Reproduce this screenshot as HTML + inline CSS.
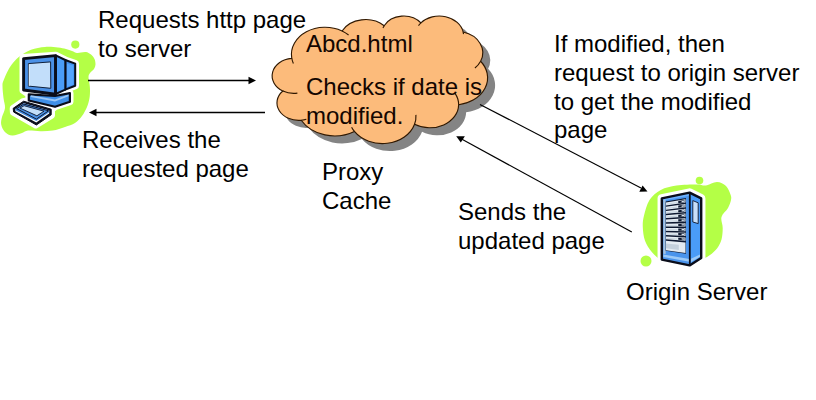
<!DOCTYPE html>
<html><head><meta charset="utf-8"><style>
html,body{margin:0;padding:0;background:#fff;}
body{width:816px;height:400px;position:relative;overflow:hidden;font-family:"Liberation Sans",sans-serif;}
svg{position:absolute;left:0;top:0;}
.t{position:absolute;font-size:24px;line-height:24px;white-space:nowrap;color:#000;}
</style></head><body>
<svg width="816" height="400" viewBox="0 0 816 400">

<g id="pc">
<path fill="#b4ff46" d="M45.00,47.00 C49.50,46.62 54.50,47.17 58.00,47.50 C61.50,47.83 63.67,48.42 66.00,49.00 C68.33,49.58 70.17,50.33 72.00,51.00 C73.83,51.67 75.50,52.75 77.00,53.00 C78.50,53.25 79.50,52.67 81.00,52.50 C82.50,52.33 84.33,51.67 86.00,52.00 C87.67,52.33 89.58,53.33 91.00,54.50 C92.42,55.67 93.75,57.33 94.50,59.00 C95.25,60.67 95.58,62.83 95.50,64.50 C95.42,66.17 94.92,67.58 94.00,69.00 C93.08,70.42 90.92,71.67 90.00,73.00 C89.08,74.33 88.58,75.17 88.50,77.00 C88.42,78.83 89.25,81.83 89.50,84.00 C89.75,86.17 90.00,87.67 90.00,90.00 C90.00,92.33 90.00,95.17 89.50,98.00 C89.00,100.83 88.25,104.00 87.00,107.00 C85.75,110.00 84.00,113.33 82.00,116.00 C80.00,118.67 77.83,121.17 75.00,123.00 C72.17,124.83 68.72,125.73 65.00,127.00 C61.28,128.27 56.80,129.89 52.70,130.60 C48.60,131.31 44.52,131.25 40.40,131.25 C36.28,131.25 31.07,130.31 28.00,130.60 C24.93,130.89 24.62,132.18 22.00,133.00 C19.38,133.82 15.10,135.68 12.25,135.50 C9.40,135.32 6.74,133.73 4.90,131.90 C3.06,130.07 1.68,126.98 1.20,124.50 C0.72,122.02 1.37,119.75 2.00,117.00 C2.63,114.25 4.75,111.17 5.00,108.00 C5.25,104.83 3.92,101.67 3.50,98.00 C3.08,94.33 2.46,89.00 2.50,86.00 C2.54,83.00 2.50,83.17 3.75,80.00 C5.00,76.83 7.50,70.83 10.00,67.00 C12.50,63.17 15.25,59.88 18.75,57.00 C22.25,54.12 26.62,51.42 31.00,49.75 C35.38,48.08 40.50,47.38 45.00,47.00Z"/>
<circle cx="75.3" cy="44.6" r="4.1" fill="#b4ff46"/>
<g stroke="#fff" stroke-width="7" stroke-linejoin="round" fill="#fff">
<polygon points="23,57.5 55.7,55.2 65.3,60 75.5,63.6 75.5,85.8 65.3,89.6 70,93 70,101.8 55,106.8 51.5,109.6 51.5,115.2 35.7,125 13.4,112.2 13.2,108.5 23,101.7 28.8,100.5 28.8,94.4 23,90.4"/>
</g>
<!-- monitor back box -->
<polygon points="65.3,60 75.2,63.6 75.2,85.8 65.3,89.6" fill="#3f8ff0" stroke="#0a0d1a" stroke-width="2" stroke-linejoin="round"/>
<polygon points="67,63.4 73.4,65.6 73.4,84.4 67,87" fill="#55a5ff"/>
<!-- monitor side -->
<polygon points="55.7,55.4 65.3,60 65.3,89.6 55.7,94" fill="#4a9cf8" stroke="#0a0d1a" stroke-width="2" stroke-linejoin="round"/>
<!-- base -->
<polygon points="28.8,94.4 28.8,100.5 55,106.8 69.9,101.8 69.9,93.1 55,96 " fill="#3f8fe8" stroke="#0a0d1a" stroke-width="2.2" stroke-linejoin="round"/>
<polygon points="30.8,95.3 55,99.4 68.5,94.6 68.5,96.3 55,101.4 30.8,97" fill="#9cc8f8"/>
<!-- monitor front -->
<polygon points="23.6,58.6 55.5,55.6 55.5,94.2 23.6,90" fill="#4a90e6" stroke="#0a0d1a" stroke-width="2.9" stroke-linejoin="round"/>
<polygon points="28.4,63.6 50.6,61.9 50.8,88.3 28.4,86.1" fill="#c2defa" stroke="#10203a" stroke-width="1"/>
<polyline points="29.2,86 29.2,64.3" fill="none" stroke="#e8f4ff" stroke-width="0.8"/>
<!-- keyboard -->
<polygon points="13.2,108.3 23.6,101.2 51.2,109.2 51.2,114.8 36.4,125 13.6,112" fill="#0a0d1a" stroke="#0a0d1a" stroke-width="1" stroke-linejoin="round"/>
<polygon points="15.4,108.9 23.7,103.3 49.2,110.6 49.2,113.4 36.3,122.4 15.4,111.3" fill="#ffffff"/>
<polygon points="15.4,108.9 23.7,103.3 49.2,110.6 49.2,112.3 36.3,121 15.4,110.3" fill="#3f88e0"/>
<polygon points="16.6,108.6 23.8,104.1 48.6,110.8 36.4,119.1" fill="#4a8ee0" stroke="#0d1830" stroke-width="1" stroke-linejoin="round"/>
<polygon points="20,108.1 24.1,105.7 44,111.2 36.9,115.8" fill="#c2defa" stroke="#0d1830" stroke-width="0.9" stroke-linejoin="round"/>
</g>


<g id="srv">
<path fill="#b4ff46" d="M660.80,190.00 C665.30,187.60 670.50,186.52 676.50,185.60 C682.50,184.68 691.92,184.52 696.80,184.50 C701.68,184.48 702.43,185.92 705.80,185.50 C709.17,185.08 713.63,181.92 717.00,182.00 C720.37,182.08 723.75,183.92 726.00,186.00 C728.25,188.08 729.67,192.17 730.50,194.50 C731.33,196.83 731.42,197.75 731.00,200.00 C730.58,202.25 729.58,205.17 728.00,208.00 C726.42,210.83 722.38,213.67 721.50,217.00 C720.62,220.33 722.70,224.25 722.70,228.00 C722.70,231.75 722.45,236.08 721.50,239.50 C720.55,242.92 718.92,245.92 717.00,248.50 C715.08,251.08 712.25,253.30 710.00,255.00 C707.75,256.70 706.50,257.20 703.50,258.70 C700.50,260.20 697.25,263.03 692.00,264.00 C686.75,264.97 677.20,265.17 672.00,264.50 C666.80,263.83 664.17,262.08 660.80,260.00 C657.43,257.92 654.43,255.20 651.80,252.00 C649.17,248.80 646.50,244.92 645.00,240.80 C643.50,236.68 642.98,231.43 642.80,227.30 C642.62,223.17 642.78,220.55 643.90,216.00 C645.02,211.45 646.68,204.33 649.50,200.00 C652.32,195.67 656.30,192.40 660.80,190.00Z"/>
<circle cx="699.5" cy="180.6" r="3.8" fill="#b4ff46"/>
<circle cx="646" cy="261" r="5.5" fill="#b4ff46"/>
<polygon points="661.8,198.4 689.6,192.6 701.2,198.4 701.2,258 689.6,265.4 661.8,259.6" fill="#fff" stroke="#fff" stroke-width="8.5" stroke-linejoin="round"/>
<polygon points="661.8,198.4 689.6,192.6 701.2,198.4 701.2,258 689.6,265.4 661.8,259.6" fill="#4a9cf8"/>
<polygon points="662.00,198.50 690.00,193.00 690.00,265.20 662.00,259.50" fill="#4a94ec"/>
<polygon points="662.84,198.33 689.16,193.17 689.16,195.68 662.84,200.48" fill="#6fb2ff"/>
<polygon points="663.40,200.07 665.64,199.66 665.64,254.00 663.40,253.63" fill="#a8c4e0"/>
<polygon points="665.64,201.53 685.94,198.03 685.94,253.65 665.64,250.75" fill="#0d1830"/>
<polygon points="665.92,202.49 685.52,199.23 685.52,202.49 665.92,205.38" fill="#e6edf4"/>
<polygon points="665.92,203.72 677.40,201.91 677.40,203.05 665.92,204.78" fill="#c8d4e0"/>
<polygon points="678.24,200.99 684.40,199.99 684.40,202.27 678.24,203.19" fill="#0d1830"/>
<polygon points="681.60,200.92 684.12,200.51 684.12,201.84 681.60,202.22" fill="#d8e4f0"/>
<polygon points="665.92,206.73 685.52,204.01 685.52,207.27 665.92,209.63" fill="#e6edf4"/>
<polygon points="665.92,207.97 677.40,206.47 677.40,207.61 665.92,209.03" fill="#c8d4e0"/>
<polygon points="678.24,205.58 684.40,204.74 684.40,207.02 678.24,207.78" fill="#0d1830"/>
<polygon points="681.60,205.59 684.12,205.25 684.12,206.58 681.60,206.90" fill="#d8e4f0"/>
<polygon points="665.92,210.98 685.52,208.79 685.52,212.05 665.92,213.87" fill="#e6edf4"/>
<polygon points="665.92,212.22 677.40,211.03 677.40,212.17 665.92,213.28" fill="#c8d4e0"/>
<polygon points="678.24,210.16 684.40,209.49 684.40,211.77 678.24,212.36" fill="#0d1830"/>
<polygon points="681.60,210.26 684.12,210.00 684.12,211.32 681.60,211.57" fill="#d8e4f0"/>
<polygon points="665.92,215.23 685.52,213.57 685.52,216.83 665.92,218.12" fill="#e6edf4"/>
<polygon points="665.92,216.46 677.40,215.58 677.40,216.72 665.92,217.53" fill="#c8d4e0"/>
<polygon points="678.24,214.74 684.40,214.24 684.40,216.52 678.24,216.94" fill="#0d1830"/>
<polygon points="681.60,214.94 684.12,214.74 684.12,216.07 681.60,216.24" fill="#d8e4f0"/>
<polygon points="665.92,219.48 685.52,218.35 685.52,221.61 665.92,222.37" fill="#e6edf4"/>
<polygon points="665.92,220.71 677.40,220.14 677.40,221.28 665.92,221.77" fill="#c8d4e0"/>
<polygon points="678.24,219.32 684.40,218.99 684.40,221.27 678.24,221.52" fill="#0d1830"/>
<polygon points="681.60,219.61 684.12,219.48 684.12,220.81 681.60,220.92" fill="#d8e4f0"/>
<polygon points="665.92,223.72 685.52,223.13 685.52,226.39 665.92,226.62" fill="#e6edf4"/>
<polygon points="665.92,224.96 677.40,224.70 677.40,225.84 665.92,226.02" fill="#c8d4e0"/>
<polygon points="678.24,223.91 684.40,223.74 684.40,226.02 678.24,226.11" fill="#0d1830"/>
<polygon points="681.60,224.28 684.12,224.22 684.12,225.55 681.60,225.59" fill="#d8e4f0"/>
<polygon points="665.92,227.97 685.52,227.91 685.52,231.17 665.92,230.86" fill="#e6edf4"/>
<polygon points="665.92,229.21 677.40,229.26 677.40,230.40 665.92,230.27" fill="#c8d4e0"/>
<polygon points="678.24,228.49 684.40,228.49 684.40,230.77 678.24,230.69" fill="#0d1830"/>
<polygon points="681.60,228.96 684.12,228.96 684.12,230.29 681.60,230.26" fill="#d8e4f0"/>
<polygon points="665.92,232.22 685.52,232.69 685.52,235.95 665.92,235.11" fill="#e6edf4"/>
<polygon points="665.92,233.46 677.40,233.82 677.40,234.96 665.92,234.52" fill="#c8d4e0"/>
<polygon points="678.24,233.07 684.40,233.24 684.40,235.52 678.24,235.27" fill="#0d1830"/>
<polygon points="681.60,233.63 684.12,233.71 684.12,235.03 681.60,234.94" fill="#d8e4f0"/>
<polygon points="665.92,236.47 685.52,237.47 685.52,240.73 665.92,239.36" fill="#e6edf4"/>
<polygon points="665.92,237.70 677.40,238.38 677.40,239.52 665.92,238.76" fill="#c8d4e0"/>
<polygon points="678.24,237.65 684.40,237.99 684.40,240.27 678.24,239.85" fill="#0d1830"/>
<polygon points="681.60,238.30 684.12,238.45 684.12,239.77 681.60,239.61" fill="#d8e4f0"/>
<polygon points="665.92,240.84 685.52,242.39 685.52,252.88 665.92,250.16" fill="#e4ebf2"/>
<polygon points="665.92,243.59 678.80,244.84 678.80,249.92 665.92,248.28" fill="#c4d0dc"/>
<polygon points="663.40,254.55 689.44,258.97 689.44,261.85 663.40,257.01" fill="#9ccaf8"/>
<polygon points="690.6,193.8 700.4,198.8 700.4,257.6 690.6,264" fill="#4a9cf8"/>
<polygon points="691,258.8 700,254.6 700,256.8 691,262" fill="#9ccaf8"/>
<polygon points="692.8,200.6 698.2,202.8 698.2,223.6 692.8,222" fill="#c8e0fa" stroke="#0d1830" stroke-width="0.9"/>
<polygon points="661.8,198.4 689.6,192.6 701.2,198.4 701.2,258 689.6,265.4 661.8,259.6" fill="none" stroke="#0a0d1a" stroke-width="2.4" stroke-linejoin="round"/>
<line x1="689.8" y1="193" x2="689.8" y2="265" stroke="#0a0d1a" stroke-width="1.8"/>
</g>

<g transform="translate(7.5,7.5)"><path fill="#848484" d="M291.73,58.01 A33.64,27.12 0 0 1 342.07,30.95 A26.57,21.45 0 0 1 384.16,25.73 A21.74,17.55 0 0 1 420.91,22.92 A24.20,19.46 0 0 1 463.18,32.06 A26.57,21.47 0 0 1 480.62,61.23 A33.75,27.21 0 0 1 458.63,104.74 A28.82,23.22 0 0 1 414.55,124.25 A33.63,27.20 0 0 1 354.40,131.48 A38.46,31.12 0 0 1 301.22,120.29 A21.72,17.47 0 0 1 282.83,91.00 A21.64,17.55 0 0 1 291.55,58.41Z"/></g>
<path fill="#fcbb7b" stroke="#301800" stroke-width="1.15" d="M291.73,58.01 A33.64,27.12 0 0 1 342.07,30.95 A26.57,21.45 0 0 1 384.16,25.73 A21.74,17.55 0 0 1 420.91,22.92 A24.20,19.46 0 0 1 463.18,32.06 A26.57,21.47 0 0 1 480.62,61.23 A33.75,27.21 0 0 1 458.63,104.74 A28.82,23.22 0 0 1 414.55,124.25 A33.63,27.20 0 0 1 354.40,131.48 A38.46,31.12 0 0 1 301.22,120.29 A21.72,17.47 0 0 1 282.83,91.00 A21.64,17.55 0 0 1 291.55,58.41Z"/>
<path fill="none" stroke="#301800" stroke-width="1.15" d="M293.40,63.52 A33.64,27.12 0 0 1 291.73,58.01 M342.07,30.95 A33.64,27.12 0 0 1 348.58,34.97 M383.00,27.99 A21.74,17.55 0 0 1 384.16,25.73 M418.48,25.69 A24.20,19.46 0 0 1 420.91,22.92 M463.18,32.06 A24.20,19.46 0 0 1 463.50,34.08 M480.62,61.23 A26.57,21.47 0 0 1 474.92,68.00 M454.88,93.11 A28.82,23.22 0 0 1 458.63,104.74 M415.94,114.87 A33.63,27.20 0 0 1 414.55,124.25 M354.40,131.48 A33.63,27.20 0 0 1 351.58,127.33 M306.36,119.28 A21.72,17.47 0 0 1 301.22,120.29 M297.39,93.16 A21.64,17.55 0 0 1 282.83,91.00 "/>
<g stroke="#000" stroke-width="1.6" fill="none">
<line x1="88" y1="80.5" x2="250" y2="80.5" stroke-width="1.35"/>
<line x1="95" y1="112.5" x2="265" y2="112.5" stroke-width="1.35"/>
<line x1="480" y1="104.4" x2="641" y2="188" stroke-width="1.15"/>
<line x1="462" y1="139.3" x2="631.8" y2="231.9" stroke-width="1.15"/>
</g>
<g fill="#000">
<polygon points="256,80.5 248.5,76.8 248.5,84.2"/>
<polygon points="89,112.5 96.5,108.8 96.5,116.2"/>
<polygon points="647.5,191.4 642.6,185.4 639.3,191.8"/>
<polygon points="456.2,136.2 464.9,136.2 460.8,142.6"/>
</g>
</svg>
<div class="t" style="left:98px;top:8px">Requests http page</div>
<div class="t" style="left:98px;top:37px">to server</div>
<div class="t" style="left:82px;top:128px">Receives the</div>
<div class="t" style="left:82px;top:157px">requested page</div>
<div class="t" style="left:306px;top:32px;color:#140600">Abcd.html</div>
<div class="t" style="left:306px;top:75px;color:#140600">Checks if date is</div>
<div class="t" style="left:306px;top:104px;color:#140600">modified.</div>
<div class="t" style="left:322px;top:160px">Proxy</div>
<div class="t" style="left:322px;top:189px">Cache</div>
<div class="t" style="left:554px;top:32px">If modified, then</div>
<div class="t" style="left:554px;top:61px">request to origin server</div>
<div class="t" style="left:554px;top:90px">to get the modified</div>
<div class="t" style="left:554px;top:118px">page</div>
<div class="t" style="left:458px;top:200px">Sends the</div>
<div class="t" style="left:458px;top:229px">updated page</div>
<div class="t" style="left:626px;top:280px">Origin Server</div>
</body></html>
